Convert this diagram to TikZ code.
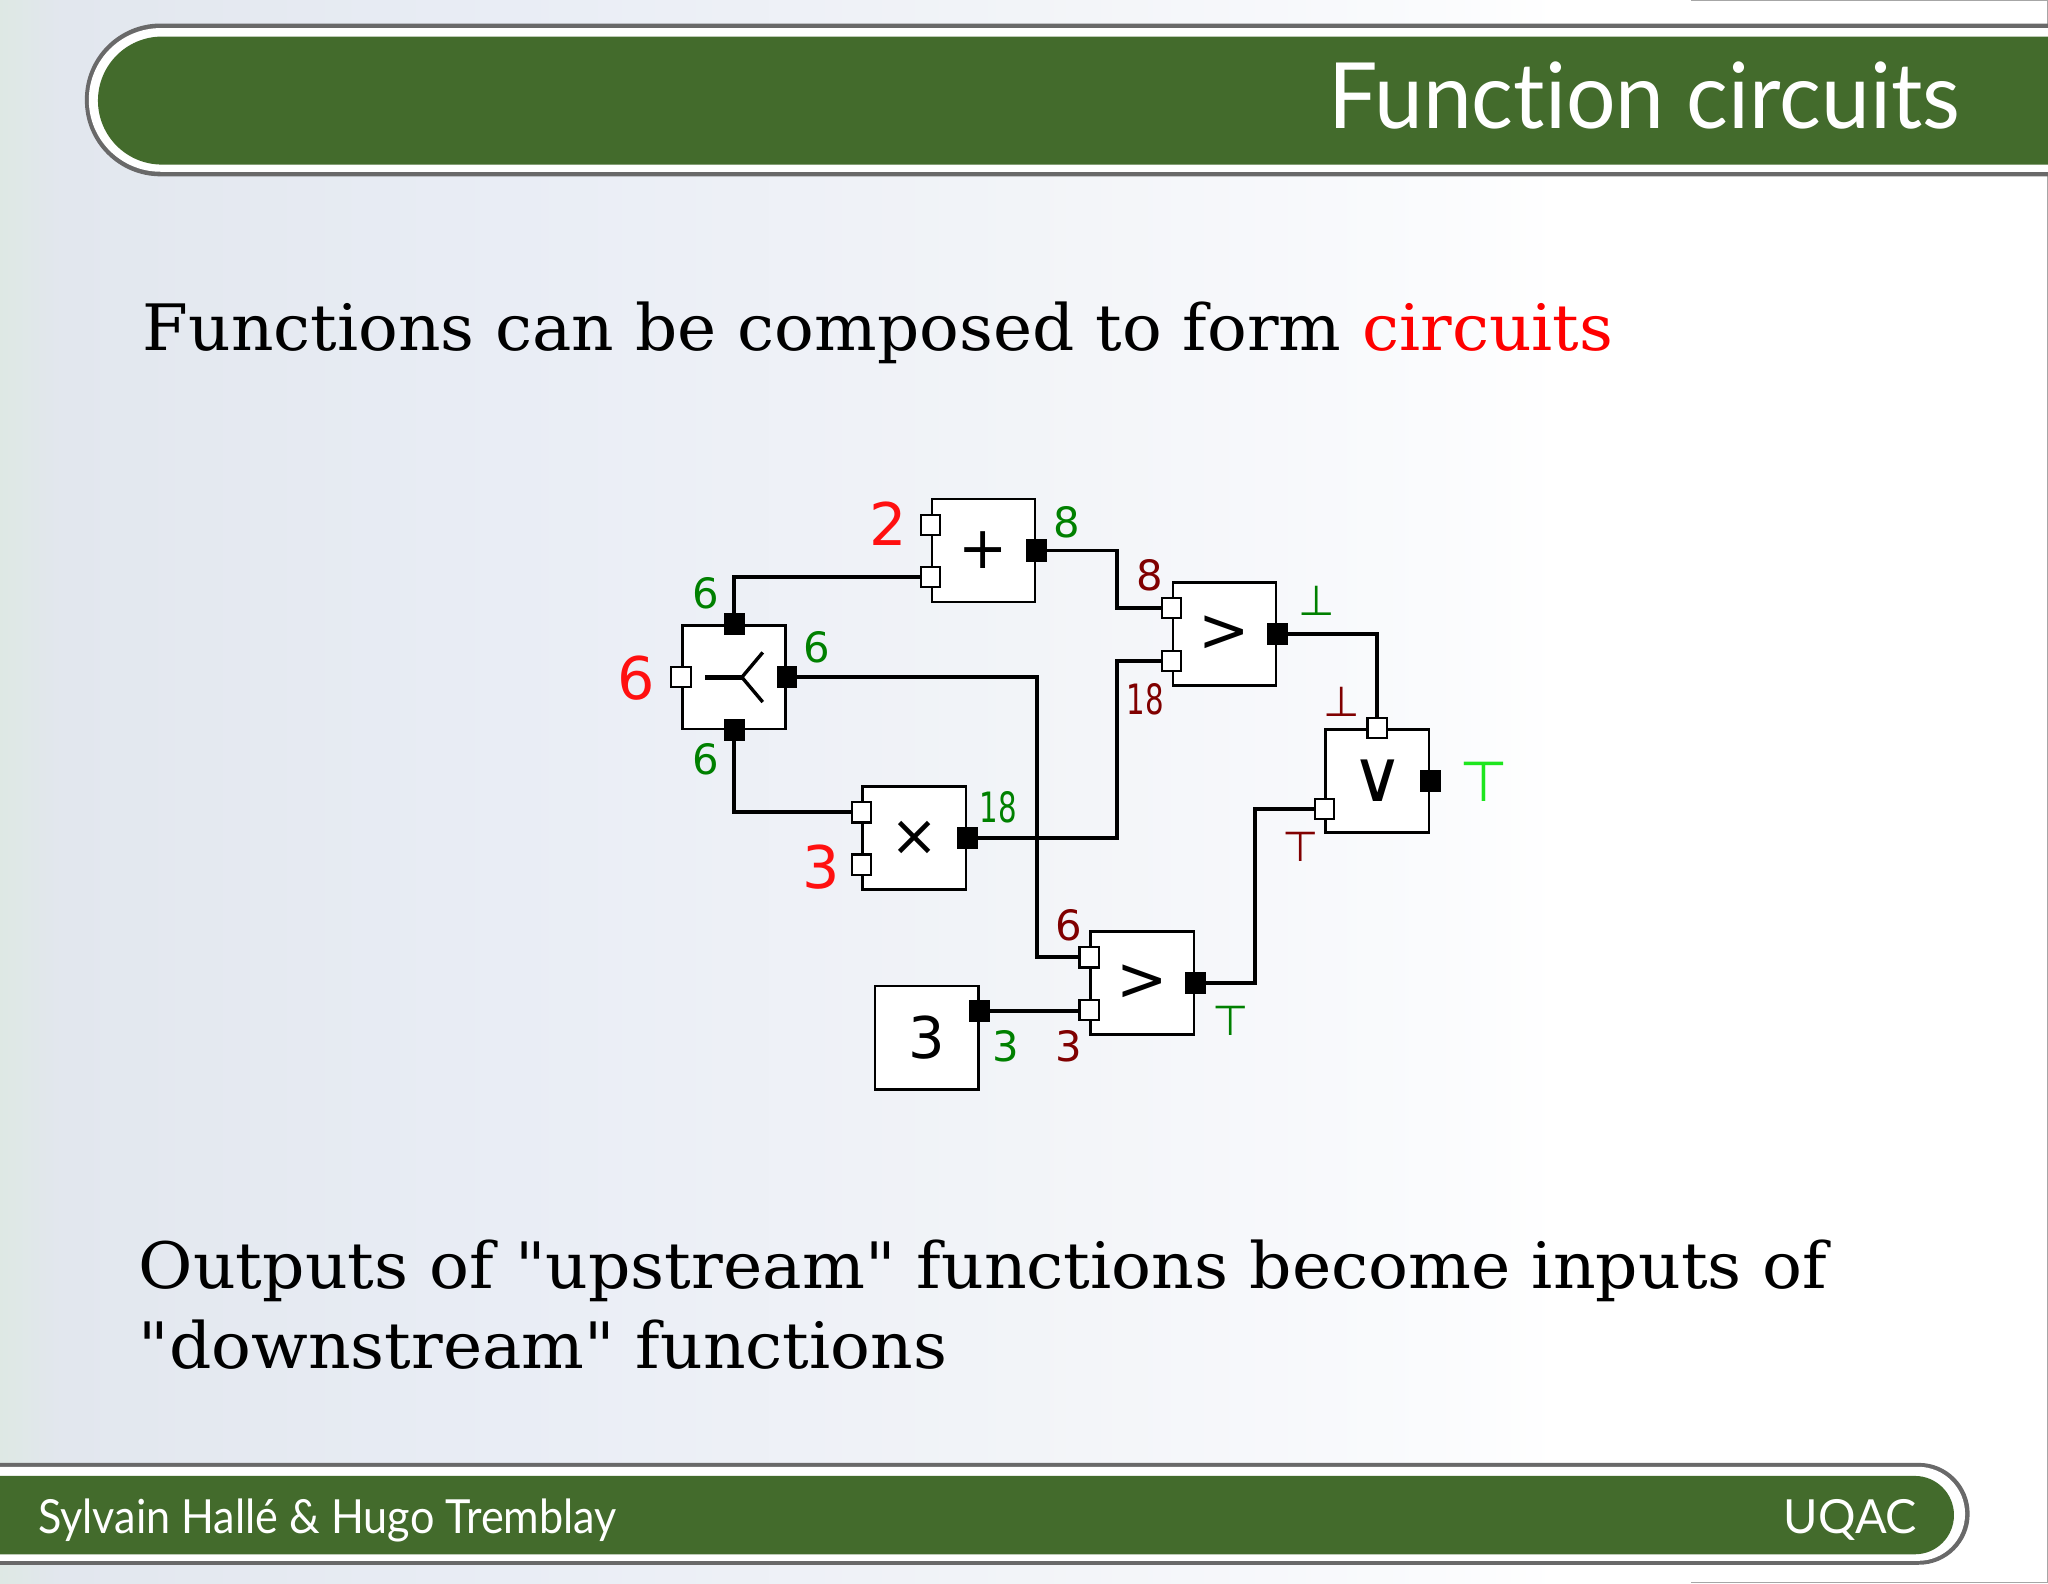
\documentclass[tikz,border=0pt]{standalone}
\usepackage{fontspec}
\setmainfont{DejaVu Serif}
\newfontfamily\bodyfont{DejaVu Serif}
\newfontfamily\dvsans{DejaVu Sans}
\newfontfamily\barfont{Lato}[Ligatures=NoCommon]
\usepackage{graphicx}
\usetikzlibrary{calc}
\newsavebox\fitbox
\newcommand\fitw[2]{\sbox\fitbox{#2}\pgfmathsetmacro\fitf{#1/\the\wd\fitbox}\scalebox{\fitf}[1]{\usebox\fitbox}}
\definecolor{bargreen}{RGB}{67,107,44}
\definecolor{bargray}{RGB}{105,105,105}
\definecolor{lgreen}{RGB}{0,128,0}
\definecolor{dred}{RGB}{128,0,0}
\definecolor{bred}{RGB}{255,16,16}
\definecolor{bgreen}{RGB}{30,230,30}
\definecolor{bgA}{RGB}{222,232,228}
\definecolor{bgB}{RGB}{226,231,238}
\definecolor{bgC}{RGB}{233,237,245}
\definecolor{bgD}{RGB}{242,244,248}
\definecolor{bgE}{RGB}{250,251,253}
\pgfdeclarehorizontalshading{bgshade}{100bp}{color(0bp)=(bgA); color(25bp)=(bgA); color(26.5bp)=(bgB); color(37.5bp)=(bgC); color(50bp)=(bgD); color(60bp)=(bgE); color(63bp)=(white); color(75bp)=(white); color(100bp)=(white)}
\pgfdeclarelayer{back}
\pgfdeclarelayer{wires}
\pgfsetlayers{back,wires,main}
\begin{document}
\begin{tikzpicture}[x=1pt,y=-1pt,
  fbox/.style={draw=black,fill=white,line width=2pt,minimum size=79pt,inner sep=0pt,font=\dvsans\fontsize{45}{45}\selectfont},
  inport/.style={draw=black,fill=white,line width=1.6pt,minimum width=15pt,minimum height=15.5pt,inner sep=0pt},
  outport/.style={fill=black,minimum width=16pt,minimum height=17pt,inner sep=0pt},
  wire/.style={line width=3pt,line join=miter},
  lbl/.style={inner sep=0pt,font=\dvsans\fontsize{32}{32}\selectfont},
  biglbl/.style={inner sep=0pt,font=\dvsans\fontsize{45}{45}\selectfont,text=bred},
  bartext/.style={inner sep=0pt,text=white},
  bodytext/.style={inner sep=0pt,anchor=base west}]
\useasboundingbox (0,0) rectangle (1568,1212);
\begin{pgfonlayer}{back}
  \shade[shading=bgshade] (0,0) rectangle (1568,1212);
  \draw[gray!70,line width=1pt] (1295,0.5) -- (1567.5,0.5) -- (1567.5,1211.5) -- (1295,1211.5);
  % header bar
  \fill[bargray,rounded corners=58pt] (1640,18) -- (65,18) -- (65,135) -- (1640,135) -- cycle;
  \fill[white,rounded corners=55pt] (1640,21.5) -- (68,21.5) -- (68,131.5) -- (1640,131.5) -- cycle;
  \fill[bargreen,rounded corners=49pt] (1640,28) -- (75,28) -- (75,126) -- (1640,126) -- cycle;
  % footer bar
  \fill[bargray,rounded corners=39pt] (-60,1120) -- (1508,1120) -- (1508,1198) -- (-60,1198) -- cycle;
  \fill[white,rounded corners=36pt] (-60,1123) -- (1504.5,1123) -- (1504.5,1195) -- (-60,1195) -- cycle;
  \fill[bargreen,rounded corners=30pt] (-60,1130) -- (1496,1130) -- (1496,1190) -- (-60,1190) -- cycle;
\end{pgfonlayer}

% texts
\node[bartext,anchor=base east] (title) at (1501,98.3) {\fitw{484}{\barfont\fontsize{70}{70}\selectfont Function circuits}};
\node[bartext,anchor=base west] (authors) at (29,1174) {\fitw{443}{\barfont\fontsize{36}{36}\selectfont Sylvain Hallé \& Hugo Tremblay}};
\node[bartext,anchor=base east] (uqac) at (1468,1174) {\fitw{102}{\barfont\fontsize{36}{36}\selectfont UQAC}};
\node[bodytext] (line1) at (109,268) {\fitw{1126}{\bodyfont\fontsize{49}{49}\selectfont Functions can be composed to form \textcolor{red}{circuits}}};
\node[bodytext] (line2) at (106,986.5) {\fitw{1293}{\bodyfont\fontsize{49}{49}\selectfont Outputs of "upstream" functions become inputs of}};
\node[bodytext] (line3) at (106,1047.7) {\fitw{619}{\bodyfont\fontsize{49}{49}\selectfont "downstream" functions}};

% boxes
\node[fbox] (fork) at (562,518.5) {};
\node[fbox] (plus) at (753,421.5) {+};
\node[fbox] (times) at (700,641.5) {\fontsize{44}{44}\selectfont ×};
\node[fbox] (gt1) at (937.5,485.5) {\fontsize{47}{47}\selectfont >};
\node[fbox] (orb) at (1054.5,598) {\fontsize{55}{55}\selectfont ∨};
\node[fbox] (gt2) at (874.5,752.5) {\fontsize{47}{47}\selectfont >};
\node[fbox] (cst) at (709.5,794.5) {\fontsize{44}{44}\selectfont 3};

% fork symbol
\draw[line width=4pt] ([xshift=-22pt]fork.center) -- ([xshift=6pt]fork.center);
\draw[line width=2.6pt] ([xshift=6pt]fork.center) -- ([xshift=22pt,yshift=19pt]fork.center);
\draw[line width=2.6pt] ([xshift=6pt]fork.center) -- ([xshift=22pt,yshift=-19pt]fork.center);

% ports
\node[inport] (forkin) at (fork.west) {};
\node[outport] (forkt) at (fork.north) {};
\node[outport] (forkr) at (fork.east) {};
\node[outport] (forkb) at (fork.south) {};
\node[inport] (plusin1) at ([yshift=19.5pt]plus.west) {};
\node[inport] (plusin2) at ([yshift=-20.5pt]plus.west) {};
\node[outport] (plusout) at (plus.east) {};
\node[inport] (timesin1) at ([yshift=19.5pt]times.west) {};
\node[inport] (timesin2) at ([yshift=-20.5pt]times.west) {};
\node[outport] (timesout) at (times.east) {};
\node[inport] (gt1in1) at ([yshift=20pt]gt1.west) {};
\node[inport] (gt1in2) at ([yshift=-20.5pt]gt1.west) {};
\node[outport] (gt1out) at (gt1.east) {};
\node[inport] (orin1) at (orb.north) {};
\node[inport] (orin2) at ([yshift=-21.5pt]orb.west) {};
\node[outport] (orout) at (orb.east) {};
\node[inport] (gt2in1) at ([yshift=19.5pt]gt2.west) {};
\node[inport] (gt2in2) at ([yshift=-21pt]gt2.west) {};
\node[outport] (gt2out) at (gt2.east) {};
\node[outport] (cstout) at ([yshift=20.5pt]cst.east) {};

% wires
\begin{pgfonlayer}{wires}
  \draw[wire] (forkt.center) |- (plusin2.center);
  \draw[wire] (forkr.center) -| ([xshift=-40pt]gt2in1.center) -- (gt2in1.center);
  \draw[wire] (forkb.center) |- (timesin1.center);
  \draw[wire] (plusout.center) -| ([xshift=-42pt]gt1in1.center) -- (gt1in1.center);
  \draw[wire] (timesout.center) -| ([xshift=-42pt]gt1in2.center) -- (gt1in2.center);
  \draw[wire] (gt1out.center) -| (orin1.center);
  \draw[wire] (gt2out.center) -| ([xshift=-53pt]orin2.center) -- (orin2.center);
  \draw[wire] (cstout.center) -- (gt2in2.center |- cstout.center);
\end{pgfonlayer}

% labels
\node[biglbl] (lforkin) at (486.8,519.4) {6};
\node[lbl,text=lgreen] (lforkt) at (540.4,454) {6};
\node[lbl,text=lgreen] (lforkr) at (625.2,495.4) {6};
\node[lbl,text=lgreen] (lforkb) at (540.4,581.2) {6};
\node[biglbl] (lplusin1) at (680.2,401.2) {2};
\node[lbl,text=lgreen] (lplusout) at (817,399.7) {8};
\node[lbl,text=dred] (lgt1in1) at (880.5,440.5) {8};
\node[lbl,text=dred] (lgt1in2) at (876.8,535.2) {\scalebox{0.7}[1]{18}};
\node[lbl,text=lgreen] (lgt1out) at (1007.9,460.2) {⊥};
\node[biglbl] (ltimesin2) at (628.6,663.6) {3};
\node[lbl,text=lgreen] (ltimesout) at (764.3,618.2) {\scalebox{0.7}[1]{18}};
\node[lbl,text=dred] (lorin1) at (1027.6,537.5) {⊥};
\node[lbl,text=dred] (lorin2) at (995.8,648.3) {⊤};
\node[lbl,text=bgreen,font=\dvsans\fontsize{43}{43}\selectfont] (lorout) at (1135.8,598.3) {⊤};
\node[lbl,text=dred] (lgt2in1) at (818.4,708.3) {6};
\node[lbl,text=dred] (lgt2in2) at (818.4,801.4) {3};
\node[lbl,text=lgreen] (lgt2out) at (942.3,781.8) {⊤};
\node[lbl,text=lgreen] (lcstout) at (770,801.4) {3};
\end{tikzpicture}
\end{document}
